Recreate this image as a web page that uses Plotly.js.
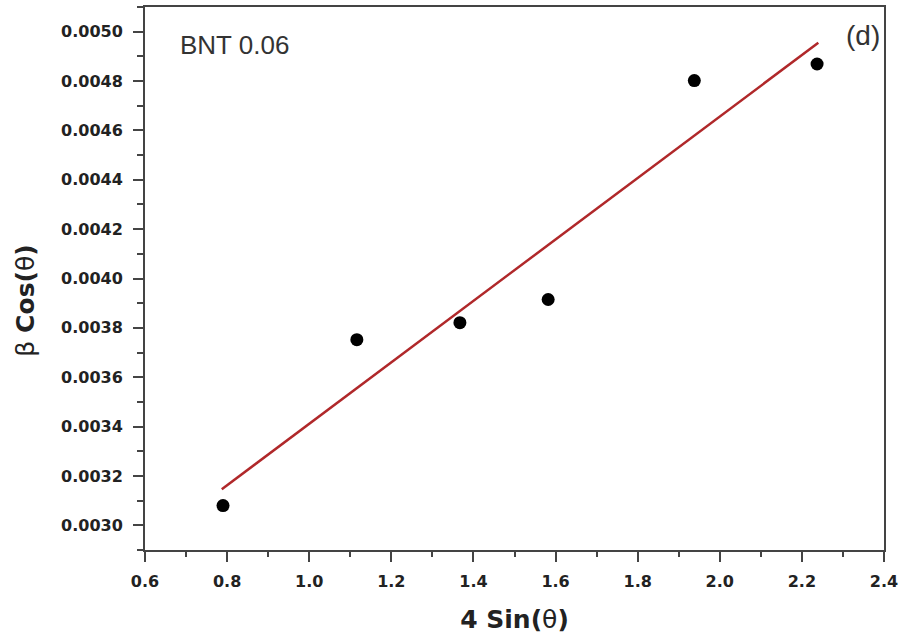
<!DOCTYPE html>
<html>
<head>
<meta charset="utf-8">
<script src="https://cdn.plot.ly/plotly-3.0.1.min.js"></script>
<style>html,body{margin:0;padding:0;background:#fff;}#chart{width:905px;height:644px;}</style>
</head>
<body>
<div id="chart"></div>
<script>
// Measured data points
const sinX = [0.790, 1.116, 1.367, 1.582, 1.938, 2.237];
const betaCos = [0.003080, 0.003752, 0.003821, 0.003915, 0.004802, 0.004869];
// Linear fit line endpoints (as drawn)
const fitX = [0.787, 2.240];
const fitY = [0.003146, 0.004955];
// Axis ticks
const xTicks = [0.6, 0.8, 1.0, 1.2, 1.4, 1.6, 1.8, 2.0, 2.2, 2.4];
const yTicks = [0.0030, 0.0032, 0.0034, 0.0036, 0.0038, 0.0040, 0.0042, 0.0044, 0.0046, 0.0048, 0.0050];

const tickFont = {family: 'DejaVu Sans', size: 16, color: '#222'};

const traces = [
  {x: fitX, y: fitY, mode: 'lines', type: 'scatter',
   line: {color: '#b0282a', width: 2.5}, showlegend: false, hoverinfo: 'skip'},
  {x: sinX, y: betaCos, mode: 'markers', type: 'scatter',
   marker: {color: '#000', size: 13, symbol: 'circle'}, showlegend: false}
];

const layout = {
  width: 905, height: 644,
  margin: {l: 145, r: 21, t: 7, b: 94},
  paper_bgcolor: '#fff', plot_bgcolor: '#fff',
  font: {family: 'DejaVu Sans', color: '#222'},
  xaxis: {
    range: [0.6, 2.4],
    tickvals: xTicks, ticktext: xTicks.map(v => '<b>' + v.toFixed(1) + '</b>'),
    ticks: 'outside', ticklen: 10, tickwidth: 2, tickcolor: '#444',
    minor: {dtick: 0.1, tick0: 0.6, ticks: 'outside', ticklen: 5, tickwidth: 2, tickcolor: '#444'},
    showline: true, linecolor: '#444', linewidth: 2, mirror: true,
    showgrid: false, zeroline: false,
    tickfont: tickFont, ticklabelstandoff: 6,
    title: {text: '<b>4 Sin(</b>θ<b>)</b>', font: {family: 'DejaVu Sans', size: 25, color: '#222'}, standoff: 20}
  },
  yaxis: {
    range: [0.0029, 0.0051],
    tickvals: yTicks, ticktext: yTicks.map(v => '<b>' + v.toFixed(4) + '</b>'),
    ticks: 'outside', ticklen: 10, tickwidth: 2, tickcolor: '#444',
    minor: {dtick: 0.0001, tick0: 0.0029, ticks: 'outside', ticklen: 6, tickwidth: 2, tickcolor: '#444'},
    showline: true, linecolor: '#444', linewidth: 2, mirror: true,
    showgrid: false, zeroline: false,
    tickfont: tickFont, ticklabelstandoff: 7
  },
  annotations: [
    {text: 'β <b>Cos(</b>θ<b>)</b>', xref: 'paper', yref: 'paper', x: -0.161, y: 0.459,
     xanchor: 'center', yanchor: 'middle', textangle: -90, showarrow: false,
     font: {family: 'DejaVu Sans', size: 25, color: '#222'}},
    {text: 'BNT 0.06', xref: 'paper', yref: 'paper', x: 0.045, y: 0.93,
     xanchor: 'left', yanchor: 'middle', showarrow: false,
     font: {family: 'Liberation Sans', size: 26, color: '#333'}},
    {text: '(d)', xref: 'paper', yref: 'paper', x: 0.997, y: 0.947,
     xanchor: 'right', yanchor: 'middle', showarrow: false,
     font: {family: 'Liberation Sans', size: 28, color: '#333'}}
  ]
};

Plotly.newPlot('chart', traces, layout, {displayModeBar: false, staticPlot: true});
</script>
</body>
</html>
